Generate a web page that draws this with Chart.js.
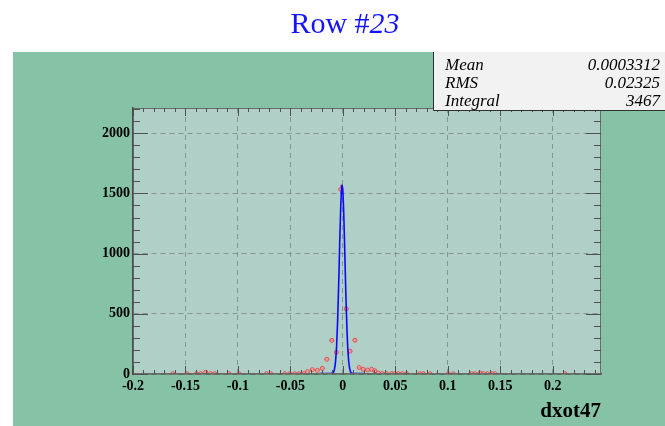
<!DOCTYPE html>
<html>
<head>
<meta charset="utf-8">
<script src="https://cdn.jsdelivr.net/npm/chart.js@4.4.0/dist/chart.umd.min.js"></script>
<style>
html, body { margin: 0; padding: 0; background: #fff; }
#wrap { position: relative; width: 665px; height: 426px; }
</style>
</head>
<body>
<div id="wrap"><canvas id="canvas1" width="665" height="426"></canvas></div>
<script>
// histogram bins (bin centre, entries)
var binX = [-0.162, -0.1486, -0.1396, -0.1355, -0.1307, -0.126, -0.1221, -0.1085, -0.099,
            -0.0728, -0.0687, -0.0553, -0.0506, -0.0458, -0.0417, -0.0372, -0.0337, -0.0291,
            -0.0243, -0.0196, -0.0153, -0.0105, -0.0062, -0.0020, 0.0032, 0.0068, 0.0115,
            0.0156, 0.0194, 0.0236, 0.0274, 0.0305, 0.0337, 0.0375, 0.0417, 0.0465, 0.0496,
            0.0528, 0.0566, 0.0608, 0.0735, 0.0767, 0.0830, 0.1005, 0.1053, 0.1228, 0.1260,
            0.1307, 0.1339, 0.1377, 0.1419, 0.1450, 0.2118];
var binY = [2, 2, 2, 3, 15, 3, 2, 2, 2,
            2, 2, 2, 2, 2, 2, 3, 20, 36,
            30, 47, 122, 279, 180, 1534, 542, 190, 281,
            54, 39, 33, 39, 27, 8, 4, 3, 3, 3,
            2, 2, 3, 2, 2, 2, 2, 2, 2, 2,
            8, 3, 2, 2, 2, 2];
var binHalfWidth = 0.0022;

// blue fit curve
var fitX = [-0.022, -0.012, -0.009, -0.008, -0.007, -0.006, -0.005, -0.004, -0.003, -0.002, -0.001, -0.0007,
            0, 0.001, 0.002, 0.003, 0.004, 0.005, 0.006, 0.007, 0.008, 0.010, 0.021];
var fitY = [4, 4, 14, 41, 103, 228, 441, 744, 1092, 1398, 1560, 1570,
            1518, 1288, 952, 614, 347, 169, 72, 27, 9, 4, 4];

var xMin = -0.2, xMax = 0.246, xMinor = 0.01;
var yMin = 0, yMax = 2210, yMinor = 100;
var xTicks = [-0.2, -0.15, -0.1, -0.05, 0, 0.05, 0.1, 0.15, 0.2];
var yTicks = [0, 500, 1000, 1500, 2000];

var statNames = ['Mean', 'RMS', 'Integral'];
var statValues = ['0.0003312', '0.02325', '3467'];

var titleMain = 'Row #';
var titleNum = '23';
var xTitle = 'dxot47';

var serif = '"Liberation Serif", "DejaVu Serif", serif';

var histPoints = [];
for (var i = 0; i < binX.length; i++) histPoints.push({x: binX[i], y: binY[i]});
var fitPoints = [];
for (var j = 0; j < fitX.length; j++) fitPoints.push({x: fitX[j], y: fitY[j]});

function isMajor(v, list) {
    for (var i = 0; i < list.length; i++) if (Math.abs(list[i] - v) < 1e-9) return true;
    return false;
}

var rootStyle = {
    id: 'rootStyle',
    beforeDraw: function(chart) {
        var ctx = chart.ctx, a = chart.chartArea;
        ctx.save();
        ctx.fillStyle = '#ffffff';
        ctx.fillRect(0, 0, chart.width, chart.height);
        ctx.fillStyle = '#86c2a5';
        ctx.fillRect(13, 52, chart.width - 13, chart.height - 52);
        ctx.fillStyle = '#b0cfc6';
        ctx.fillRect(a.left, a.top, a.right - a.left, a.bottom - a.top);
        ctx.restore();
    },
    beforeDatasetsDraw: function(chart) {
        // error bars of the histogram
        var ctx = chart.ctx, xs = chart.scales.x, ys = chart.scales.y;
        ctx.save();
        ctx.strokeStyle = '#e05858';
        ctx.lineWidth = 1;
        for (var i = 0; i < binX.length; i++) {
            var err = Math.sqrt(binY[i]);
            var px = xs.getPixelForValue(binX[i]);
            var py = ys.getPixelForValue(binY[i]);
            ctx.beginPath();
            ctx.moveTo(px, ys.getPixelForValue(binY[i] - err));
            ctx.lineTo(px, ys.getPixelForValue(binY[i] + err));
            ctx.moveTo(xs.getPixelForValue(binX[i] - binHalfWidth), py);
            ctx.lineTo(xs.getPixelForValue(binX[i] + binHalfWidth), py);
            ctx.stroke();
        }
        ctx.restore();
    },
    afterDraw: function(chart) {
        var ctx = chart.ctx, a = chart.chartArea, xs = chart.scales.x, ys = chart.scales.y;
        ctx.save();
        // frame
        ctx.strokeStyle = '#6a6a6a';
        ctx.lineWidth = 1;
        ctx.strokeRect(a.left + 0.5, a.top + 0.5, a.right - a.left - 1, a.bottom - a.top - 1);
        // ticks, inside the frame
        ctx.strokeStyle = '#505050';
        ctx.beginPath();
        var n, v, p, len;
        for (n = 0; yMin + n * yMinor <= yMax; n++) {
            v = yMin + n * yMinor;
            p = Math.round(ys.getPixelForValue(v)) + 0.5;
            len = isMajor(v, yTicks) ? 15 : 7;
            ctx.moveTo(a.left, p); ctx.lineTo(a.left + len, p);
            ctx.moveTo(a.right, p); ctx.lineTo(a.right - len, p);
        }
        for (n = 0; xMin + n * xMinor <= xMax + 1e-9; n++) {
            v = xMin + n * xMinor;
            p = Math.round(xs.getPixelForValue(v)) + 0.5;
            len = isMajor(v, xTicks) ? 8 : 4;
            ctx.moveTo(p, a.bottom); ctx.lineTo(p, a.bottom - len);
            ctx.moveTo(p, a.top); ctx.lineTo(p, a.top + len);
        }
        ctx.stroke();

        // title
        ctx.fillStyle = '#1414ff';
        ctx.textBaseline = 'alphabetic';
        ctx.font = '30px ' + serif;
        var w1 = ctx.measureText(titleMain).width;
        ctx.font = 'italic 30px ' + serif;
        var w2 = ctx.measureText(titleNum).width;
        var tx = 345 - (w1 + w2) / 2;
        ctx.font = '30px ' + serif;
        ctx.fillText(titleMain, tx, 33);
        ctx.font = 'italic 30px ' + serif;
        ctx.fillText(titleNum, tx + w1, 33);

        // stats box
        ctx.fillStyle = '#f2f2f2';
        ctx.fillRect(433, 52, chart.width - 433, 58);
        ctx.strokeStyle = '#303030';
        ctx.lineWidth = 1;
        ctx.beginPath();
        ctx.moveTo(433.5, 52); ctx.lineTo(433.5, 110.5); ctx.lineTo(chart.width, 110.5);
        ctx.stroke();
        ctx.fillStyle = '#000';
        ctx.font = 'italic 17px ' + serif;
        for (var k = 0; k < statNames.length; k++) {
            var by = 70 + k * 18;
            ctx.textAlign = 'left';
            ctx.fillText(statNames[k], 445, by);
            ctx.textAlign = 'right';
            ctx.fillText(statValues[k], 660, by);
        }

        // x axis title
        ctx.font = 'bold 21px ' + serif;
        ctx.textAlign = 'right';
        ctx.fillText(xTitle, a.right, 417);
        ctx.restore();
    }
};

var ctx = document.getElementById('canvas1');
var chart = new Chart(ctx, {
    type: 'scatter',
    data: {
        datasets: [
            {
                label: 'fit',
                data: fitPoints,
                showLine: true,
                borderColor: '#0a0aff',
                borderWidth: 1.6,
                pointRadius: 0,
                cubicInterpolationMode: 'monotone',
                order: 0
            },
            {
                label: xTitle,
                data: histPoints,
                pointStyle: 'circle',
                pointRadius: 2,
                borderWidth: 1,
                borderColor: '#e05050',
                backgroundColor: 'rgba(240, 170, 170, 0.7)',
                order: 1
            }
        ]
    },
    options: {
        responsive: false,
        animation: false,
        devicePixelRatio: 1,
        layout: { padding: { left: 0, top: 108, right: 64, bottom: 0 } },
        plugins: { legend: { display: false }, tooltip: { enabled: false } },
        scales: {
            x: {
                type: 'linear',
                min: xMin, max: xMax,
                afterFit: function(s) { s.height = 52; },
                afterBuildTicks: function(s) { s.ticks = xTicks.map(function(v) { return {value: v}; }); },
                grid: { color: 'rgba(80, 80, 80, 0.45)', lineWidth: 1, drawTicks: false },
                border: { display: true, color: '#4a4a4a', width: 1.5, dash: [5, 4] },
                ticks: {
                    padding: 4, color: '#000', maxRotation: 0, autoSkip: false,
                    font: { family: serif, size: 14, weight: 'bold' },
                    callback: function(v) { return String(+Number(v).toFixed(2)); }
                }
            },
            y: {
                type: 'linear',
                min: yMin, max: yMax,
                afterFit: function(s) { s.width = 133; },
                afterBuildTicks: function(s) { s.ticks = yTicks.map(function(v) { return {value: v}; }); },
                grid: { color: 'rgba(80, 80, 80, 0.45)', lineWidth: 1, drawTicks: false },
                border: { display: true, color: '#4a4a4a', width: 1.5, dash: [5, 4] },
                ticks: {
                    padding: 3, color: '#000', autoSkip: false,
                    font: { family: serif, size: 14, weight: 'bold' },
                    callback: function(v) { return String(v); }
                }
            }
        }
    },
    plugins: [rootStyle]
});
</script>
</body>
</html>
